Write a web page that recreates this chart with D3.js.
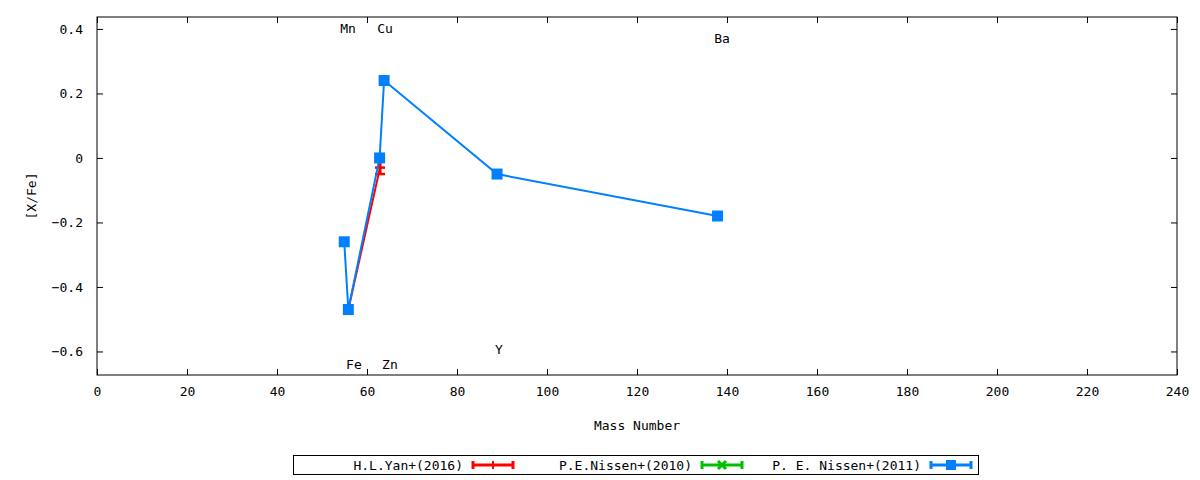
<!DOCTYPE html>
<html>
<head>
<meta charset="utf-8">
<script src="https://cdn.jsdelivr.net/npm/d3@7"></script>
<style>
    body { margin: 0; background: #fff; }
    text { font-family: "DejaVu Sans Mono", monospace; font-size: 13px; fill: #000; }
</style>
</head>
<body>
<div id="chart"></div>
<script>
// Data
const yanMass = [55.85, 62.9];
const yanVal = [-0.47, -0.03];
const yanErr = [0, 0.02];

const nissen10Mass = [];
const nissen10Val = [];

const nissen11Mass = [54.94, 55.85, 62.8, 63.8, 88.9, 137.9];
const nissen11Val = [-0.26, -0.47, 0.0, 0.24, -0.05, -0.18];

const elemNames = ["Mn", "Cu", "Ba", "Fe", "Zn", "Y"];
const elemX = [55.8, 64.0, 138.9, 57.1, 65.1, 89.3];
const elemY = [0.403, 0.403, 0.372, -0.639, -0.639, -0.595];

const xTicks = [0, 20, 40, 60, 80, 100, 120, 140, 160, 180, 200, 220, 240];
const yTicks = [-0.6, -0.4, -0.2, 0, 0.2, 0.4];

const legendNames = ["H.L.Yan+(2016)", "P.E.Nissen+(2010)", "P. E. Nissen+(2011)"];

const colors = {
    yan: "#ff0000",
    nissen10: "#00c000",
    nissen11: "#0080ff"
};

const margin = { top: 17, right: 23, bottom: 105, left: 97 };
const width = 1200 - margin.left - margin.right;
const height = 480 - margin.top - margin.bottom;

const svg = d3.select("#chart").append("svg")
    .attr("width", 1200)
    .attr("height", 480)
    .append("g")
    .attr("transform", `translate(${margin.left},${margin.top})`);

const x = d3.scaleLinear().domain([0, 240]).range([0, width]);
const y = d3.scaleLinear().domain([-0.673, 0.437]).range([height, 0]);

// Frame
svg.append("rect")
    .attr("width", width).attr("height", height)
    .attr("fill", "none").attr("stroke", "#000").attr("stroke-width", 1);

// Ticks (inward, mirrored)
const tick = 6;
svg.append("g")
    .attr("transform", `translate(0,${height})`)
    .call(d3.axisBottom(x).tickValues(xTicks).tickSizeInner(-tick).tickSizeOuter(0).tickPadding(12).tickFormat(d3.format("d")))
    .call(g => g.select(".domain").remove());
svg.append("g")
    .call(d3.axisTop(x).tickValues(xTicks).tickSizeInner(-tick).tickSizeOuter(0).tickFormat(""))
    .call(g => g.select(".domain").remove());
svg.append("g")
    .call(d3.axisLeft(y).tickValues(yTicks).tickSizeInner(-tick).tickSizeOuter(0).tickPadding(14)
        .tickFormat(d => d === 0 ? "0" : d3.format(".1f")(d)))
    .call(g => g.select(".domain").remove());
svg.append("g")
    .attr("transform", `translate(${width},0)`)
    .call(d3.axisRight(y).tickValues(yTicks).tickSizeInner(-tick).tickSizeOuter(0).tickFormat(""))
    .call(g => g.select(".domain").remove());

svg.selectAll(".tick text")
    .style("font-family", "'DejaVu Sans Mono', monospace")
    .style("font-size", "13px");

// Axis labels
svg.append("text")
    .attr("x", width / 2).attr("y", height + 55)
    .attr("text-anchor", "middle")
    .text("Mass Number");

svg.append("text")
    .attr("transform", "rotate(-90)")
    .attr("x", -(196 - margin.top)).attr("y", -61)
    .attr("text-anchor", "middle")
    .text("[X/Fe]");

// Element labels
elemNames.forEach((n, i) => {
    svg.append("text")
        .attr("x", x(elemX[i])).attr("y", y(elemY[i]))
        .attr("dy", "0.35em")
        .attr("text-anchor", "middle")
        .text(n);
});

const line = d3.line().x(d => x(d[0])).y(d => y(d[1]));

// Yan 2016 (red)
const yanData = yanMass.map((m, i) => [m, yanVal[i], yanErr[i]]);
svg.append("path").datum(yanData)
    .attr("fill", "none").attr("stroke", colors.yan).attr("stroke-width", 2)
    .attr("d", line);
yanData.filter(d => d[2] > 0).forEach(d => {
    const g = svg.append("g").attr("stroke", colors.yan).attr("stroke-width", 3);
    g.append("line").attr("x1", x(d[0])).attr("x2", x(d[0]))
        .attr("y1", y(d[1] - d[2])).attr("y2", y(d[1] + d[2]));
    [d[1] - d[2], d[1] + d[2], d[1]].forEach(v => {
        g.append("line").attr("x1", x(d[0]) - 5).attr("x2", x(d[0]) + 5)
            .attr("y1", y(v)).attr("y2", y(v)).attr("stroke-width", 2.5);
    });
});

// Nissen 2011 (blue)
const n11Data = nissen11Mass.map((m, i) => [m, nissen11Val[i]]);
svg.append("path").datum(n11Data)
    .attr("fill", "none").attr("stroke", colors.nissen11).attr("stroke-width", 2)
    .attr("d", line);
svg.selectAll("n11sq")
    .data(n11Data)
    .join("rect")
    .attr("x", d => x(d[0]) - 5.5).attr("y", d => y(d[1]) - 5.5)
    .attr("width", 11).attr("height", 11)
    .attr("fill", colors.nissen11);

// Legend
const lg = d3.select("svg").append("g");
lg.append("rect")
    .attr("x", 293.5).attr("y", 455.5).attr("width", 685).attr("height", 19)
    .attr("fill", "none").attr("stroke", "#000");

const legendEnds = [463, 692, 921];
const legendColors = [colors.yan, colors.nissen10, colors.nissen11];
legendNames.forEach((n, i) => {
    const tx = legendEnds[i];
    lg.append("text").attr("x", tx).attr("y", 465).attr("dy", "0.35em")
        .attr("text-anchor", "end").text(n);
    const x0 = tx + 10, x1 = tx + 50, cx = (x0 + x1) / 2, cy = 465;
    const g = lg.append("g").attr("stroke", legendColors[i]).attr("fill", legendColors[i]);
    g.append("line").attr("x1", x0).attr("x2", x1).attr("y1", cy).attr("y2", cy).attr("stroke-width", 3);
    g.append("line").attr("x1", x0).attr("x2", x0).attr("y1", cy - 4).attr("y2", cy + 4).attr("stroke-width", 3);
    g.append("line").attr("x1", x1).attr("x2", x1).attr("y1", cy - 4).attr("y2", cy + 4).attr("stroke-width", 3);
    if (i === 0) {
        g.append("line").attr("x1", cx).attr("x2", cx).attr("y1", cy - 4).attr("y2", cy + 4).attr("stroke-width", 2);
    } else if (i === 1) {
        g.append("path").attr("d", `M${cx - 4},${cy - 4}L${cx + 4},${cy + 4}M${cx - 4},${cy + 4}L${cx + 4},${cy - 4}`)
            .attr("stroke-width", 3);
    } else {
        g.append("rect").attr("x", cx - 5).attr("y", cy - 5).attr("width", 10).attr("height", 10).attr("stroke", "none");
    }
});
</script>
</body>
</html>
